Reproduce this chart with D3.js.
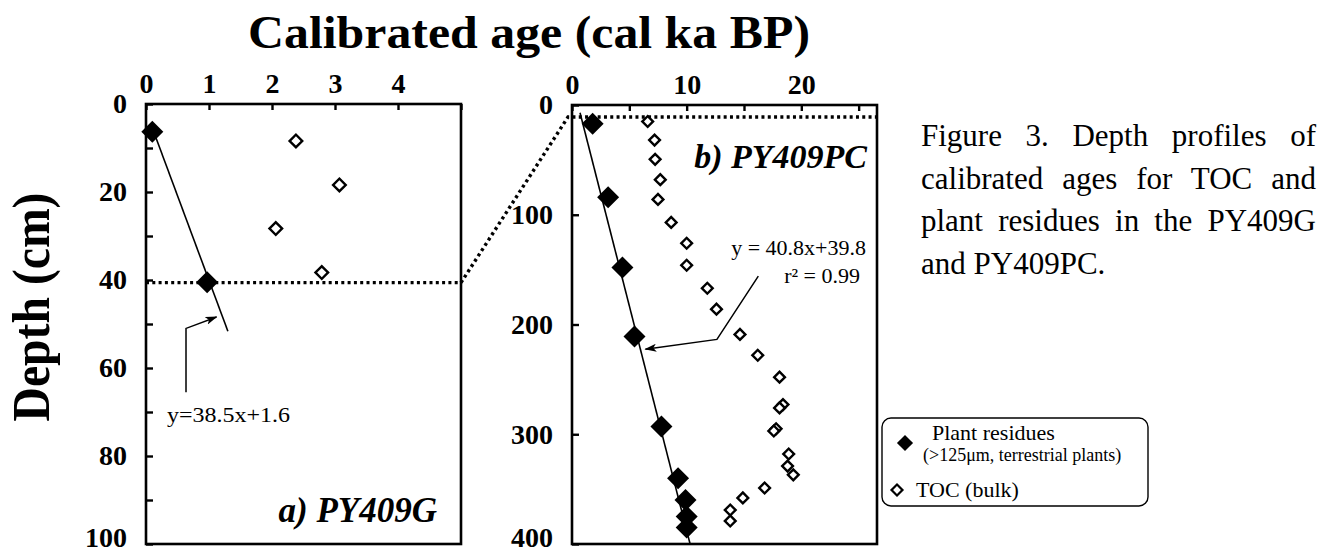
<!DOCTYPE html>
<html>
<head>
<meta charset="utf-8">
<script src="https://cdn.jsdelivr.net/npm/d3@7"></script>
<style>
  body { margin: 0; background: #fff; }
  svg text { font-family: "Liberation Serif", "Times New Roman", serif; fill: #000; }
</style>
</head>
<body>
<div id="chart"></div>
<script>
// ---- data ----
// a) PY409G  (age in cal ka BP, depth in cm)
var plantG_age = [0.1, 0.97];
var plantG_depth = [6.3, 40.5];
var tocG_age = [2.38, 3.07, 2.06, 2.79];
var tocG_depth = [8.4, 18.4, 28.3, 38.3];

// b) PY409PC
var plantPC_age = [1.8, 3.15, 4.4, 5.45, 7.8, 9.25, 9.9, 10.0, 10.0];
var plantPC_depth = [17, 84, 148, 211, 293, 340, 360, 375, 385];
var tocPC_age = [6.6, 7.2, 7.25, 7.7, 7.5, 8.65, 10.0, 10.0, 11.8, 12.6, 14.65, 16.2,
                 18.1, 18.4, 18.1, 17.8, 17.6, 18.9, 18.8, 19.3, 16.8, 14.9, 13.8, 13.8];
var tocPC_depth = [15, 32, 49.5, 68, 86, 107, 126, 146, 167, 186, 209, 228,
                   248, 273, 276, 295, 297, 318, 329, 337, 349, 358, 369, 379];

// fitted lines
var fitG = { slope: 38.5, intercept: 1.6, ageFrom: 0.08, ageTo: 1.3 };
var fitPC_age = [0.7, 10.3];
var fitPC_depth = [7, 400];

// tick values / labels
var ageTicksG = [0, 1, 2, 3, 4, 5];
var depthTicksG = [0, 10, 20, 30, 40, 50, 60, 70, 80, 90, 100];
var ageTicksPC = [0, 5, 10, 15, 20, 25];
var depthTicksPC = [0, 100, 200, 300, 400];

// dotted correlation line (G depth 40.6 cm = PC depth 11 cm)
var corrDepthG = 40.6;
var corrDepthPC = 11;
var corrAgePCstart = -0.35;

// annotation arrows (data coordinates)
var arrowG = [[0.635, 65.5], [0.635, 51], [1.12, 48.4]];
var arrowPC = [[16.25, 156], [12.64, 213.6], [6.4, 222.5]];

var titleText = "Calibrated age (cal ka BP)";
var yTitleText = "Depth (cm)";
var legendLabels = ["Plant residues", "(>125\u03bcm, terrestrial plants)", "TOC (bulk)"];
var captionLines = ["Figure 3. Depth profiles of", "calibrated ages for TOC and",
                    "plant residues in the PY409G", "and PY409PC."];

// ---- drawing ----
var width = 1321, height = 553;
var svg = d3.select("#chart").append("svg")
	.attr("width", width)
	.attr("height", height);

svg.append("defs").append("marker")
	.attr("id", "arr")
	.attr("viewBox", "0 0 12 8")
	.attr("refX", 11).attr("refY", 4)
	.attr("markerWidth", 12).attr("markerHeight", 8)
	.attr("markerUnits", "userSpaceOnUse")
	.attr("orient", "auto")
	.append("path")
	.attr("d", "M0,0 L12,4 L0,8 L3,4 Z")
	.attr("fill", "#000");

// scales
var xG = d3.scaleLinear().domain([0, 5]).range([146, 461]);
var yG = d3.scaleLinear().domain([0, 100]).range([104, 544]);
var xPC = d3.scaleLinear().domain([0, 26.6]).range([572, 877]);
var yPC = d3.scaleLinear().domain([0, 400]).range([105, 544]);

var diamondFill = d3.symbol().type(d3.symbolSquare).size(242);
var diamondOpenG = d3.symbol().type(d3.symbolSquare).size(80);
var diamondOpenPC = d3.symbol().type(d3.symbolSquare).size(58);

function styleAxis(g) {
	g.select(".domain").remove();
	g.selectAll(".tick line").attr("stroke", "#000").attr("stroke-width", 2.4);
	g.selectAll(".tick text")
		.attr("font-size", 28)
		.attr("font-weight", "bold")
		.attr("fill", "#000");
}

function panel(x, y, ageTicks, depthTicks, ageLabelStep, depthLabelStep) {
	var g = svg.append("g");
	g.append("g")
		.attr("transform", "translate(0," + y.range()[0] + ")")
		.call(d3.axisTop(x).tickValues(ageTicks).tickSizeInner(-6).tickSizeOuter(0).tickPadding(11)
			.tickFormat(function (d) { return (d % ageLabelStep === 0 && d < x.domain()[1] - 0.5) ? d : ""; }))
		.call(styleAxis);
	var ya = g.append("g")
		.attr("transform", "translate(" + x.range()[0] + ",0)")
		.call(d3.axisLeft(y).tickValues(depthTicks).tickSizeInner(-7).tickSizeOuter(0).tickPadding(19)
			.tickFormat(function (d) { return d % depthLabelStep === 0 ? d : ""; }))
		.call(styleAxis);
	// bottom label sits on the page edge, lift it a little
	ya.selectAll(".tick text").filter(function (d) { return d === y.domain()[1]; })
		.attr("dy", "0.1em");
	g.append("rect")
		.attr("x", x.range()[0]).attr("y", y.range()[0])
		.attr("width", x.range()[1] - x.range()[0])
		.attr("height", y.range()[1] - y.range()[0])
		.attr("fill", "none").attr("stroke", "#000").attr("stroke-width", 2.6);
	return g;
}

var gG = panel(xG, yG, ageTicksG, depthTicksG, 1, 20);
var gPC = panel(xPC, yPC, ageTicksPC, depthTicksPC, 10, 100);

// dotted correlation lines
var dotted = svg.append("g")
	.attr("fill", "none")
	.attr("stroke", "#000")
	.attr("stroke-width", 3.4)
	.attr("stroke-dasharray", "3,3.3");
dotted.append("path").attr("d", d3.line()([
	[xG(0), yG(corrDepthG)],
	[xG(5), yG(corrDepthG)],
	[xPC(corrAgePCstart), yPC(corrDepthPC)],
	[xPC(26.6), yPC(corrDepthPC)]
]));

// fit lines
var lineG = d3.line().x(function (d) { return xG(d); })
	.y(function (d) { return yG(fitG.slope * d + fitG.intercept); });
svg.append("path")
	.attr("d", lineG([fitG.ageFrom, fitG.ageTo]))
	.attr("stroke", "#000").attr("stroke-width", 1.6).attr("fill", "none");

svg.append("path")
	.attr("d", d3.line()(fitPC_age.map(function (a, i) { return [xPC(a), yPC(fitPC_depth[i])]; })))
	.attr("stroke", "#000").attr("stroke-width", 1.6).attr("fill", "none");

// points
function drawPoints(x, y, ages, depths, sym, filled) {
	svg.append("g").selectAll("path")
		.data(ages.map(function (a, i) { return [a, depths[i]]; }))
		.enter()
		.append("path")
		.attr("d", sym)
		.attr("transform", function (d) { return "translate(" + x(d[0]) + "," + y(d[1]) + ") rotate(45)"; })
		.attr("fill", filled ? "#000" : "#fff")
		.attr("stroke", "#000")
		.attr("stroke-width", filled ? 0 : 2.4);
}
drawPoints(xG, yG, tocG_age, tocG_depth, diamondOpenG, false);
drawPoints(xG, yG, plantG_age, plantG_depth, diamondFill, true);
drawPoints(xPC, yPC, tocPC_age, tocPC_depth, diamondOpenPC, false);
drawPoints(xPC, yPC, plantPC_age, plantPC_depth, diamondFill, true);

// arrows
svg.append("path")
	.attr("d", d3.line()(arrowG.map(function (p) { return [xG(p[0]), yG(p[1])]; })))
	.attr("fill", "none").attr("stroke", "#000").attr("stroke-width", 1.5)
	.attr("marker-end", "url(#arr)");
svg.append("path")
	.attr("d", d3.line()(arrowPC.map(function (p) { return [xPC(p[0]), yPC(p[1])]; })))
	.attr("fill", "none").attr("stroke", "#000").attr("stroke-width", 1.5)
	.attr("marker-end", "url(#arr)");

// equations
svg.append("text").attr("x", 167).attr("y", 422)
	.attr("font-size", 22).attr("textLength", 123).attr("lengthAdjust", "spacingAndGlyphs")
	.text("y=38.5x+1.6");
svg.append("text").attr("x", 866).attr("y", 255).attr("text-anchor", "end")
	.attr("font-size", 22)
	.text("y = 40.8x+39.8");
svg.append("text").attr("x", 860).attr("y", 283).attr("text-anchor", "end")
	.attr("font-size", 22)
	.text("r\u00b2 = 0.99");

// panel labels
svg.append("text").attr("x", 437).attr("y", 522).attr("text-anchor", "end")
	.attr("font-size", 35).attr("font-weight", "bold").attr("font-style", "italic")
	.text("a) PY409G");
svg.append("text").attr("x", 867).attr("y", 168).attr("text-anchor", "end")
	.attr("font-size", 34).attr("font-weight", "bold").attr("font-style", "italic")
	.text("b) PY409PC");

// axis titles
svg.append("text").attr("x", 248).attr("y", 48)
	.attr("font-size", 46).attr("font-weight", "bold")
	.attr("textLength", 562).attr("lengthAdjust", "spacingAndGlyphs")
	.text(titleText);
svg.append("text")
	.attr("transform", "translate(49,307) rotate(-90)")
	.attr("text-anchor", "middle")
	.attr("font-size", 52).attr("font-weight", "bold")
	.attr("textLength", 229).attr("lengthAdjust", "spacingAndGlyphs")
	.text(yTitleText);

// legend
var leg = svg.append("g");
leg.append("rect").attr("x", 882).attr("y", 418).attr("width", 266).attr("height", 88)
	.attr("rx", 9).attr("fill", "#fff").attr("stroke", "#000").attr("stroke-width", 1.4);
leg.append("path").attr("d", d3.symbol().type(d3.symbolSquare).size(130)())
	.attr("transform", "translate(905,443) rotate(45)").attr("fill", "#000");
leg.append("text").attr("x", 932).attr("y", 440).attr("font-size", 22).text(legendLabels[0]);
leg.append("text").attr("x", 923).attr("y", 461).attr("font-size", 18).text(legendLabels[1]);
leg.append("path").attr("d", d3.symbol().type(d3.symbolSquare).size(60)())
	.attr("transform", "translate(897,490) rotate(45)")
	.attr("fill", "#fff").attr("stroke", "#000").attr("stroke-width", 2.2);
leg.append("text").attr("x", 916).attr("y", 497).attr("font-size", 22).text(legendLabels[2]);

// caption, first three lines justified by widening word gaps
var capY = [146, 188.5, 231, 273.5];
var capWidth = 395;
svg.append("g").selectAll("text")
	.data(captionLines)
	.enter()
	.append("text")
	.attr("x", 921)
	.attr("y", function (d, i) { return capY[i]; })
	.attr("font-size", 31)
	.text(function (d) { return d; })
	.each(function (d, i) {
		if (i < 3) {
			var gaps = d.split(" ").length - 1;
			var extra = capWidth - this.getComputedTextLength();
			if (gaps > 0 && extra > 0) d3.select(this).attr("word-spacing", extra / gaps);
		}
	});
</script>
</body>
</html>
